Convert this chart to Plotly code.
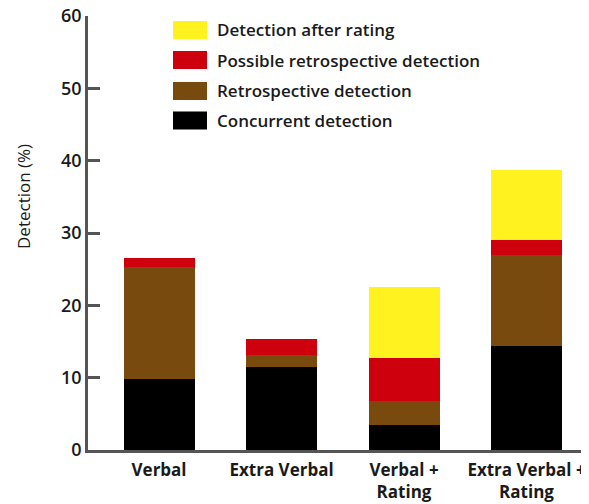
import plotly.graph_objects as go

categories = ["Verbal", "Extra Verbal", "Verbal +<br>Rating", "Extra Verbal +<br>Rating"]
concurrent = [9.8, 11.5, 3.4, 14.4]
retrospective = [15.5, 1.6, 3.4, 12.6]
possible_retro = [1.3, 2.2, 5.9, 2.1]
after_rating = [0, 0, 9.8, 9.6]

series_names = ["Concurrent detection", "Retrospective detection",
                "Possible retrospective detection", "Detection after rating"]
series_values = [concurrent, retrospective, possible_retro, after_rating]
series_colors = ["#000000", "#784A0E", "#CE000E", "#FFF21E"]
y_ticks = [0, 10, 20, 30, 40, 50, 60]
y_title = "Detection (%)"

# page has an 8px body margin; size figure to fit the 589x504 window
OFF = 8
W, H = 589 - OFF, 504 - OFF
ML, MR, MT, MB = 88 - OFF, 0, 16 - OFF, 54
PW, PH = W - ML - MR, H - MT - MB

FONT = "Open Sans"
TXT = "#1a1a1a"

fig = go.Figure()
for name, vals, col in zip(series_names, series_values, series_colors):
    fig.add_trace(go.Bar(x=categories, y=vals, name=name, width=0.58,
                         marker=dict(color=col, line=dict(width=0)),
                         showlegend=False))

def px_x(x):  # screen px -> paper
    return (x - OFF - ML) / PW

def px_y(y):
    return (H - MB - (y - OFF)) / PH

# manual legend (top to bottom: reversed series order)
legend_rows = [30, 60, 91, 120.5]
for row_y, name, col in zip(legend_rows, series_names[::-1], series_colors[::-1]):
    fig.add_shape(type="rect", xref="paper", yref="paper",
                  x0=px_x(173), x1=px_x(207), y0=px_y(row_y + 9), y1=px_y(row_y - 9),
                  fillcolor=col, line=dict(width=0))
    fig.add_annotation(xref="paper", yref="paper", x=px_x(215), y=px_y(row_y),
                       text=name, showarrow=False, xanchor="left", yanchor="middle",
                       font=dict(family=FONT, size=17, color=TXT, weight=600))

# y-axis title
fig.add_annotation(xref="paper", yref="paper", x=px_x(23), y=px_y(197),
                   text=y_title, showarrow=False, textangle=-90,
                   xanchor="center", yanchor="middle",
                   font=dict(family=FONT, size=17, color=TXT, weight=400))

fig.update_layout(
    width=W, height=H,
    margin=dict(l=ML, r=MR, t=MT, b=MB, autoexpand=False),
    barmode="stack",
    plot_bgcolor="white", paper_bgcolor="white",
    font=dict(family=FONT, size=14, color=TXT, weight=600),
    bargap=0,
)
fig.update_xaxes(type="category", range=[-0.58, 3.51], showline=True,
                 linecolor="#555555", linewidth=2.5, ticks="", showgrid=False,
                 automargin=False, ticklabelstandoff=3, ticklabeloverflow="allow",
                 tickfont=dict(family=FONT, size=17, color=TXT, weight=700))
fig.update_yaxes(range=[0, 60], tickvals=y_ticks, showline=True,
                 linecolor="#555555", linewidth=2.5, ticks="inside", ticklen=12,
                 tickwidth=2.5, tickcolor="#555555", showgrid=False, zeroline=False,
                 automargin=False, ticklabeloverflow="allow",
                 tickfont=dict(family=FONT, size=18, color=TXT, weight=600))

fig.write_html("out.html")
